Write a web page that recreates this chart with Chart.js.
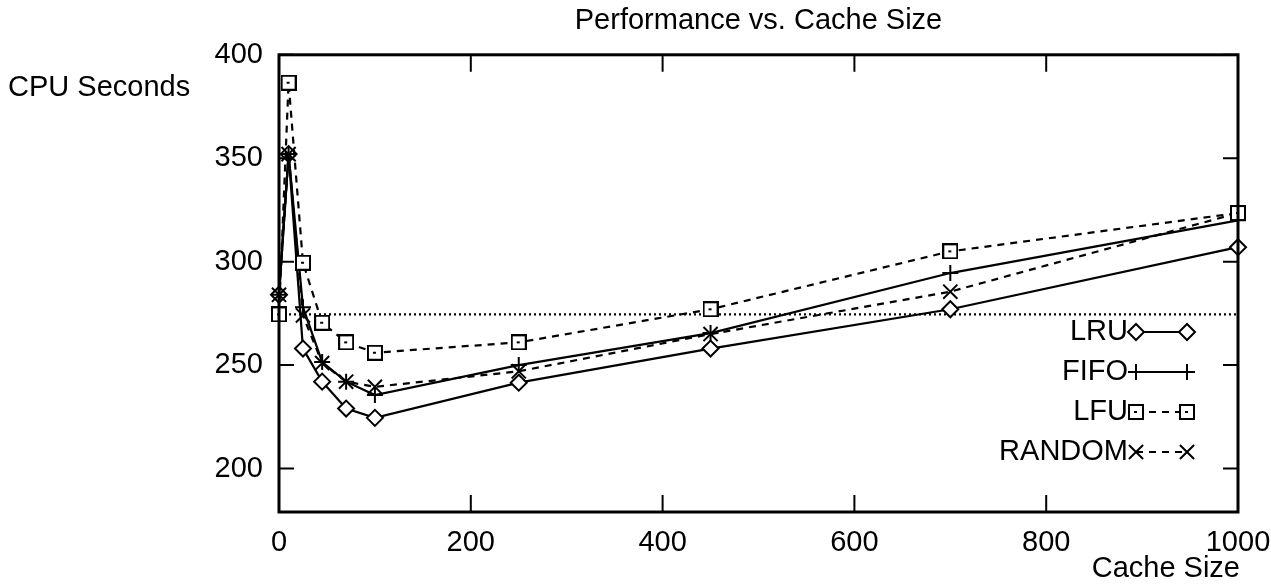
<!DOCTYPE html>
<html>
<head>
<meta charset="utf-8">
<title>Performance vs. Cache Size</title>
<script src="https://cdn.jsdelivr.net/npm/chart.js@4/dist/chart.umd.min.js"></script>
<style>
  html, body { margin: 0; padding: 0; background: #fff; }
</style>
</head>
<body>
<canvas id="perf" width="1271" height="584"></canvas>
<script>
const cacheSizes = [0, 10, 25, 45, 70, 100, 250, 450, 700, 1000];
const lruSeconds = [284, 352, 258, 242, 229, 224.5, 241.5, 258, 277, 307];
const fifoSeconds = [284, 352, 278, 251.5, 242, 235.5, 250, 265.5, 294.5, 320];
const lfuSeconds = [274.5, 386.5, 299.5, 270.5, 261, 256, 261, 277, 305, 323.5];
const randomSeconds = [284, 352, 274, 251, 242, 239.5, 247, 265, 285.5, 323.5];
const baselineX = [0, 1000];
const baselineSeconds = [274.5, 274.5];
const xTicks = [0, 200, 400, 600, 800, 1000];
const yTicks = [200, 250, 300, 350, 400];

const FONT = "'Liberation Sans', Arial, Helvetica, sans-serif";
const SIZE = 29;

// hollow square with a small mark inside, like the old plotter symbol
function boxMark(size) {
  const c = document.createElement("canvas");
  c.width = size;
  c.height = size;
  const g = c.getContext("2d");
  g.fillStyle = "#fff";
  g.fillRect(0, 0, size, size);
  g.strokeStyle = "#000";
  g.lineWidth = 2;
  g.strokeRect(1, 1, size - 2, size - 2);
  g.fillStyle = "#000";
  g.fillRect(size / 2 - 2, size / 2 - 1, 3, 2);
  return c;
}

const pts = (xs, ys) => xs.map((v, i) => ({ x: v, y: ys[i] }));

const frame = {
  id: "frame",
  afterDatasetsDraw(chart) {
    const { ctx, chartArea: a, scales: { x, y } } = chart;
    ctx.save();
    ctx.strokeStyle = "#000";
    ctx.lineWidth = 2;
    ctx.setLineDash([]);
    ctx.beginPath();
    yTicks.forEach((v) => {
      const py = y.getPixelForValue(v);
      ctx.moveTo(a.left, py);
      ctx.lineTo(a.left + 15, py);
      ctx.moveTo(a.right, py);
      ctx.lineTo(a.right - 15, py);
    });
    xTicks.forEach((v) => {
      const px = x.getPixelForValue(v);
      ctx.moveTo(px, a.bottom);
      ctx.lineTo(px, a.bottom - 17);
      ctx.moveTo(px, a.top);
      ctx.lineTo(px, a.top + 17);
    });
    ctx.stroke();
    ctx.lineWidth = 3;
    ctx.strokeRect(a.left, a.top, a.right - a.left, a.bottom - a.top);

    ctx.fillStyle = "#000";
    ctx.font = SIZE + "px " + FONT;
    ctx.textBaseline = "middle";
    ctx.textAlign = "right";
    yTicks.forEach((v) => ctx.fillText(String(v), a.left - 16, y.getPixelForValue(v)));
    ctx.textAlign = "center";
    xTicks.forEach((v) => ctx.fillText(String(v), x.getPixelForValue(v), a.bottom + 31));
    ctx.textAlign = "left";
    ctx.fillText("CPU Seconds", 8, 88);
    ctx.textAlign = "right";
    ctx.fillText("Cache Size", a.right + 2, 569);
    ctx.restore();
  },
};

const keyRows = [332, 372, 412, 452];
const key = {
  id: "key",
  afterDatasetsDraw(chart) {
    const ctx = chart.ctx;
    ctx.save();
    ctx.font = SIZE + "px " + FONT;
    ctx.textAlign = "right";
    ctx.textBaseline = "middle";
    chart.data.datasets.slice(0, 4).forEach((ds, i) => {
      const yy = keyRows[i];
      ctx.fillStyle = "#000";
      ctx.fillText(ds.label, 1128, yy);
      ctx.strokeStyle = "#000";
      ctx.lineWidth = ds.borderWidth;
      ctx.setLineDash(ds.borderDash || []);
      ctx.beginPath();
      ctx.moveTo(1136, yy);
      ctx.lineTo(1187, yy);
      ctx.stroke();
      ctx.setLineDash([]);
      ctx.fillStyle = "#fff";
      ctx.lineWidth = ds.pointBorderWidth;
      [1136, 1187].forEach((px) =>
        Chart.helpers.drawPoint(ctx, {
          pointStyle: ds.pointStyle,
          radius: ds.pointRadius,
          rotation: 0,
          borderWidth: ds.pointBorderWidth,
        }, px, yy)
      );
    });
    ctx.restore();
  },
};

const common = {
  borderColor: "#000",
  borderWidth: 2.2,
  pointBorderColor: "#000",
  pointBackgroundColor: "#fff",
  pointBorderWidth: 2,
  tension: 0,
  clip: false,
};

new Chart(document.getElementById("perf"), {
  type: "line",
  data: {
    datasets: [
      { ...common, label: "LRU", data: pts(cacheSizes, lruSeconds), pointStyle: "rectRot", pointRadius: 8, order: 4 },
      { ...common, label: "FIFO", data: pts(cacheSizes, fifoSeconds), pointStyle: "cross", pointRadius: 8, order: 3 },
      { ...common, label: "LFU", data: pts(cacheSizes, lfuSeconds), pointStyle: boxMark(16), pointRadius: 8, borderDash: [7, 6], order: 1 },
      { ...common, label: "RANDOM", data: pts(cacheSizes, randomSeconds), pointStyle: "crossRot", pointRadius: 10, borderDash: [7, 6], order: 2 },
      { ...common, label: "baseline", data: pts(baselineX, baselineSeconds), pointRadius: 0, borderDash: [2, 3], order: 5 },
    ],
  },
  options: {
    responsive: false,
    animation: false,
    layout: { padding: { left: 279, right: 33, top: 0, bottom: 72 } },
    plugins: {
      legend: { display: false },
      tooltip: { enabled: false },
      title: {
        display: true,
        text: "Performance vs. Cache Size",
        fullSize: false,
        color: "#000",
        font: { size: SIZE, family: FONT, weight: "normal" },
        padding: { top: 4, bottom: 16 },
      },
    },
    scales: {
      x: { type: "linear", min: 0, max: 1000, display: false },
      y: { type: "linear", min: 179, max: 400, display: false },
    },
  },
  plugins: [frame, key],
});
</script>
</body>
</html>
